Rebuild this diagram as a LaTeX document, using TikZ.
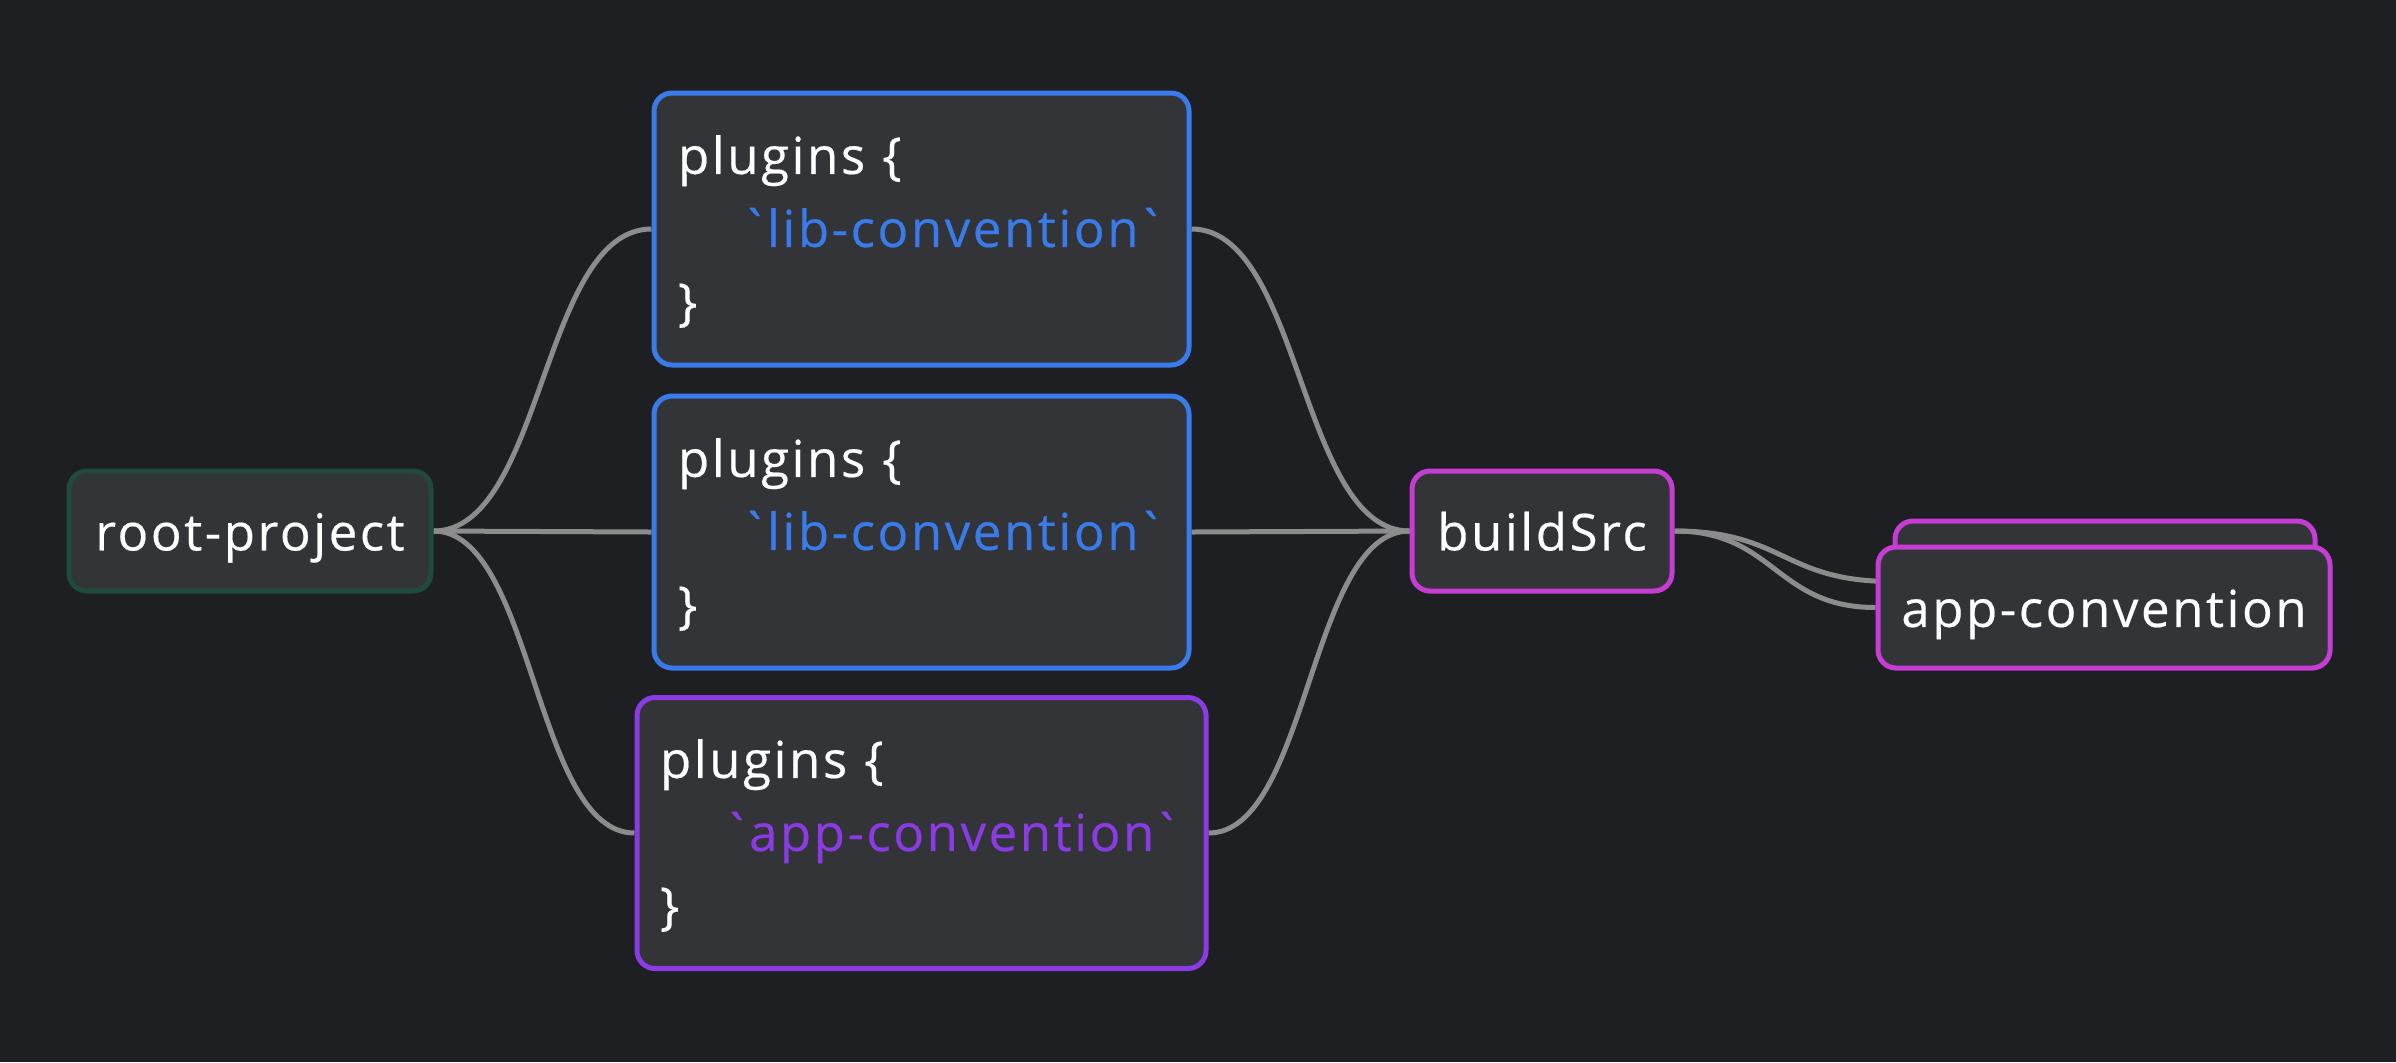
\documentclass[tikz,border=0pt]{standalone}
\usepackage{fontspec}
\newfontfamily\uifont[LetterSpace=5,FakeBold=0.4]{Open Sans}
\definecolor{bgc}{HTML}{1E1F23}
\definecolor{nodefill}{HTML}{333438}
\definecolor{rootborder}{HTML}{1F4A3C}
\definecolor{libblue}{HTML}{3A7BEA}
\definecolor{apppurple}{HTML}{8A3BE3}
\definecolor{bsmag}{HTML}{C63DD4}
\definecolor{conncol}{HTML}{8C8C8C}
\pgfdeclarelayer{canvas}
\pgfdeclarelayer{edges}
\pgfsetlayers{canvas,edges,main}
\newcommand{\firstln}[1]{\raisebox{0pt}[22pt][0pt]{#1}}
\newcommand{\lastln}[1]{\raisebox{0pt}[0pt][4.1pt]{#1}}
\newcommand{\midln}[2]{\hspace*{31pt}\makebox[0pt][l]{\textcolor{#1}{\symbol{96}\kern-1.2pt #2\kern-1.2pt\symbol{96}}}}
\begin{document}
\begin{tikzpicture}[x=0.5pt,y=-0.5pt,
  box/.style={draw, line width=2.5pt, fill=nodefill, rounded corners=9pt, text=white,
    font=\uifont\fontsize{25.5}{36.5}\selectfont, inner sep=0pt},
  oneline/.style={text height=25pt, text depth=5.6pt},
  conn/.style={draw=conncol, line width=2.5pt}]
\begin{pgfonlayer}{canvas}
\fill[bgc] (0,0) rectangle (2396,1062);
\end{pgfonlayer}
\useasboundingbox (0,0) rectangle (2396,1062);

\node[box, oneline, draw=rootborder, minimum width=181pt, minimum height=60pt] (root) at (250,531) {root-project};

\node[box, draw=libblue, minimum width=267.5pt, minimum height=136pt, text width=243.5pt, align=left] (lib1) at (921.5,229)
  {\firstln{plugins \{}\\\midln{libblue}{lib-convention}\\\lastln{\}}};
\node[box, draw=libblue, minimum width=267.5pt, minimum height=136pt, text width=243.5pt, align=left] (lib2) at (921.5,532)
  {\firstln{plugins \{}\\\midln{libblue}{lib-convention}\\\lastln{\}}};
\node[box, draw=apppurple, minimum width=284.5pt, minimum height=135.5pt, text width=261.5pt, align=left] (app) at (921.5,833)
  {\firstln{plugins \{}\\\midln{apppurple}{app-convention}\\\lastln{\}}};

\node[box, oneline, draw=bsmag, minimum width=130pt, minimum height=60pt] (bs) at (1542,531) {buildSrc};

\node[box, draw=bsmag, minimum width=210pt, minimum height=60.5pt] (acback) at (2105,581.5) {};
\node[box, oneline, draw=bsmag, minimum width=226pt, minimum height=60.5pt] (ac) at (2104,607.5) {app-convention};

\begin{pgfonlayer}{edges}
\draw[conn] (root.east) .. controls +(110,0) and +(-110,0) .. (lib1.west);
\draw[conn] (root.east) -- (lib2.west);
\draw[conn] (root.east) .. controls +(100,0) and +(-100,0) .. (app.west);
\draw[conn] (lib1.east) .. controls +(110,0) and +(-110,0) .. (bs.west);
\draw[conn] (lib2.east) -- (bs.west);
\draw[conn] (app.east) .. controls +(100,0) and +(-100,0) .. (bs.west);
\draw[conn] (bs.east) .. controls +(110,0) and +(-110,0) .. (acback.west);
\draw[conn] (bs.east) .. controls +(100,0) and +(-100,0) .. (ac.west);
\end{pgfonlayer}
\end{tikzpicture}
\end{document}
